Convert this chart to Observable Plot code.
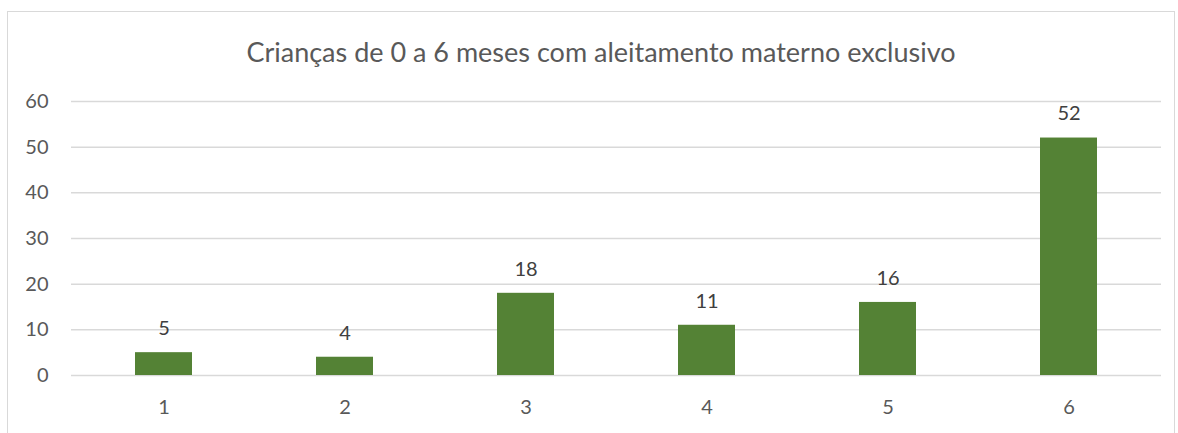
<!DOCTYPE html>
<html>
<head>
<meta charset="utf-8">
<script src="https://cdn.jsdelivr.net/npm/d3@7"></script>
<script src="https://cdn.jsdelivr.net/npm/@observablehq/plot@0.6"></script>
<style>
  html, body { margin: 0; padding: 0; background: #fff; }
  #wrap { position: relative; width: 1178px; height: 433px; overflow: hidden; font-family: Lato, "Open Sans", sans-serif; }
  #border { position: absolute; left: 7px; top: 11px; width: 1168px; height: 440px; border: 1px solid #d9d9d9; box-sizing: border-box; }
  #title { position: absolute; left: 0; top: 33px; width: 1202px; text-align: center; font-size: 27px; color: #595959; line-height: 38px; }
  #chart { position: absolute; left: 0; top: 75px; }
</style>
</head>
<body>
<div id="wrap">
  <div id="border"></div>
  <div id="title">Crianças de 0 a 6 meses com aleitamento materno exclusivo</div>
  <div id="chart"></div>
</div>
<script>
const categories = ["1", "2", "3", "4", "5", "6"];
const values = [5, 4, 18, 11, 16, 52];
const yTicks = [0, 10, 20, 30, 40, 50, 60];

const data = categories.map((c, i) => ({ cat: c, value: values[i] }));

const chart = Plot.plot({
  width: 1178,
  height: 358,
  marginTop: 26,
  marginBottom: 58,
  marginLeft: 71,
  marginRight: 17,
  style: { fontFamily: "Lato, 'Open Sans', sans-serif", fontSize: "20px", color: "#595959", background: "transparent" },
  x: { domain: categories, paddingInner: 0.687, paddingOuter: 0.3435, label: null },
  y: { domain: [0, 60], ticks: yTicks, label: null },
  marks: [
    Plot.gridY(yTicks, { stroke: "#d9d9d9", strokeOpacity: 1, strokeWidth: 1.5 }),
    Plot.barY(data, { x: "cat", y: "value", fill: "#548235" }),
    Plot.text(data, { x: "cat", y: "value", text: d => String(d.value), dy: -24, fill: "#404040", fontSize: 20 }),
    Plot.axisX({ tickSize: 0, tickPadding: 24, fontSize: 20, fill: "#595959" }),
    Plot.axisY({ ticks: yTicks, tickSize: 0, tickPadding: 23, fontSize: 20, fill: "#595959" })
  ]
});
document.getElementById("chart").appendChild(chart);
</script>
</body>
</html>
